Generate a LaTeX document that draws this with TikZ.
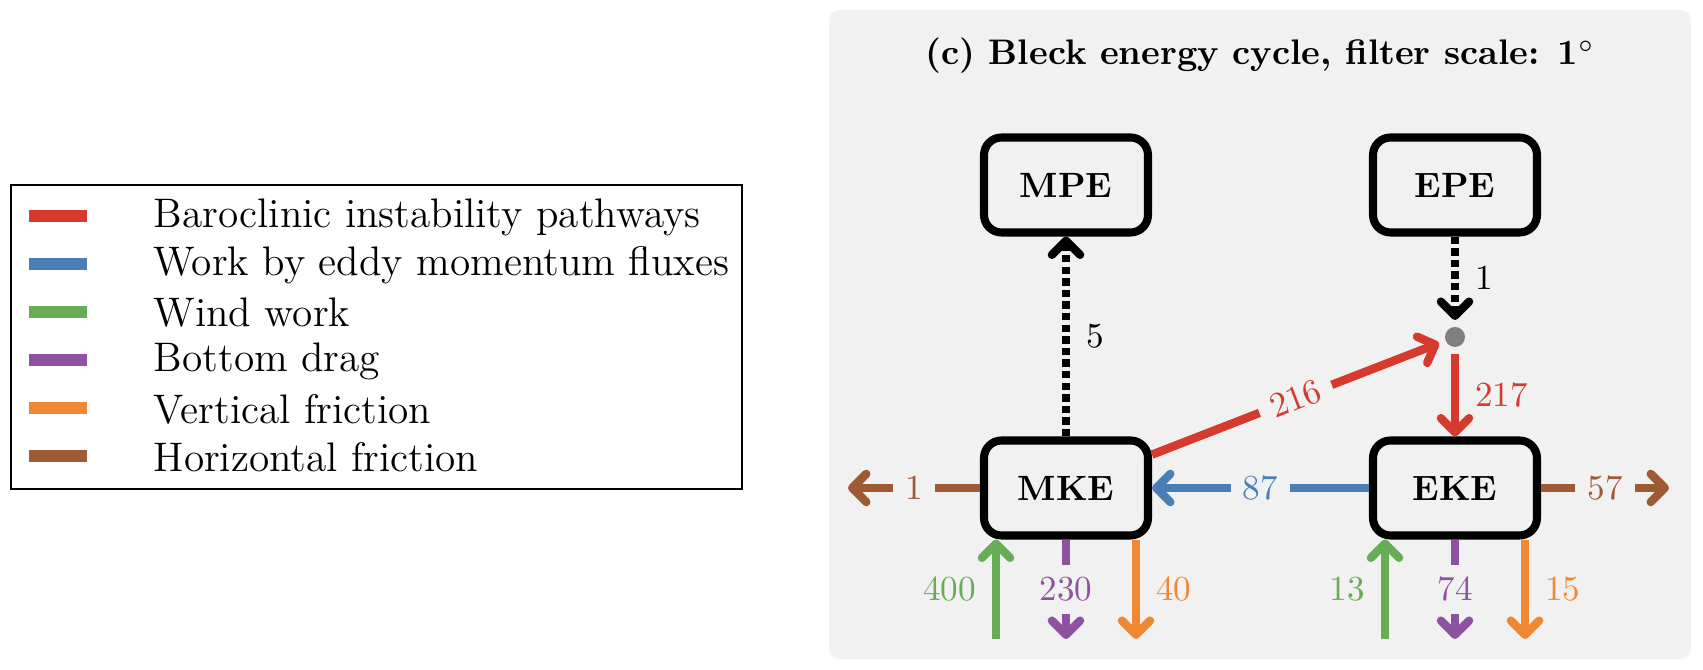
\documentclass[tikz,border=0pt]{standalone}
\usetikzlibrary{arrows.meta}

\definecolor{panelgray}{RGB}{241,241,241}
\definecolor{dotgray}{RGB}{128,128,128}
\definecolor{bipred}{RGB}{214,58,47}
\definecolor{emfblue}{RGB}{74,126,183}
\definecolor{windgreen}{RGB}{102,173,86}
\definecolor{dragpurple}{RGB}{143,82,160}
\definecolor{vfricorange}{RGB}{240,136,50}
\definecolor{hfricbrown}{RGB}{158,90,50}

\tikzset{
  ebox/.style={draw=black, line width=2.3pt, rounded corners=5pt, fill=panelgray,
    minimum width=1.64cm, minimum height=0.95cm, font=\fontsize{10}{12}\selectfont\bfseries},
  flow/.style={line width=2.4pt, -{Straight Barb[length=4pt,width=8pt,round]}},
  dflow/.style={flow, dash pattern=on 2.1pt off 1.2pt},
  num/.style={font=\fontsize{10}{12}\selectfont, inner sep=4.5pt},
  cut/.style={num, fill=panelgray, inner sep=3.5pt},
}

\begin{document}
\begin{tikzpicture}[x=0.1mm, y=-0.1mm]
\useasboundingbox (0,0) rectangle (1703,670);

% legend
\draw[line width=0.4pt] (11,185) rectangle (742,489);
\foreach \col/\txt [count=\i] in {bipred/Baroclinic instability pathways,
    emfblue/Work by eddy momentum fluxes, windgreen/Wind work,
    dragpurple/Bottom drag, vfricorange/Vertical friction,
    hfricbrown/Horizontal friction}{
  \fill[\col] (29,{216+(\i-1)*48-6}) rectangle (87,{216+(\i-1)*48+6});
  \node[anchor=west, inner sep=0pt, font=\fontsize{11.75}{13}\selectfont] at (153,{217+(\i-1)*48}) {\txt};
}

% panel (c)
\fill[panelgray, rounded corners=3pt] (829,10) rectangle (1691,659);
\node[font=\fontsize{10.1}{12}\selectfont\bfseries] (title) at (1260,56) {(c) Bleck energy cycle, filter scale: 1$^\circ$};

\node[ebox] (MPE) at (1066,185) {MPE};
\node[ebox] (EPE) at (1455,185) {EPE};
\node[ebox] (MKE) at (1066,488) {MKE};
\node[ebox] (EKE) at (1455,488) {EKE};
\node[circle, fill=dotgray, minimum size=2mm, inner sep=0pt, outer sep=2pt] (mix) at (1455,337) {};

% free ends
\coordinate (hfM) at (848,488);
\coordinate (hfE) at (1669,488);
\coordinate (wwM) at (996,639);
\coordinate (bdM) at (1066,639);
\coordinate (vfM) at (1136,639);
\coordinate (wwE) at (1385,639);
\coordinate (bdE) at (1455,639);
\coordinate (vfE) at (1525,639);

\draw[dflow] (MKE) -- node[num, right] {5} (MPE);
\draw[dflow] (EPE) -- node[num, right] {1} (mix);
\draw[flow, bipred] (MKE) -- node[cut, sloped, text=bipred] {216} (mix);
\draw[flow, bipred] (mix) -- node[num, right, text=bipred] {217} (EKE);
\draw[flow, emfblue] (EKE) -- node[cut, text=emfblue] {87} (MKE);
\draw[flow, hfricbrown] (MKE) -- node[cut, text=hfricbrown] {1} (hfM);
\draw[flow, hfricbrown] (EKE) -- node[cut, text=hfricbrown] {57} (hfE);

\draw[flow, windgreen] (wwM) -- node[num, left, text=windgreen] {400} (wwM |- MKE.south);
\draw[flow, dragpurple] (MKE) -- node[cut, text=dragpurple] {230} (bdM);
\draw[flow, vfricorange] (vfM |- MKE.south) -- node[num, right, text=vfricorange] {40} (vfM);
\draw[flow, windgreen] (wwE) -- node[num, left, text=windgreen] {13} (wwE |- EKE.south);
\draw[flow, dragpurple] (EKE) -- node[cut, text=dragpurple] {74} (bdE);
\draw[flow, vfricorange] (vfE |- EKE.south) -- node[num, right, text=vfricorange] {15} (vfE);

\end{tikzpicture}
\end{document}
